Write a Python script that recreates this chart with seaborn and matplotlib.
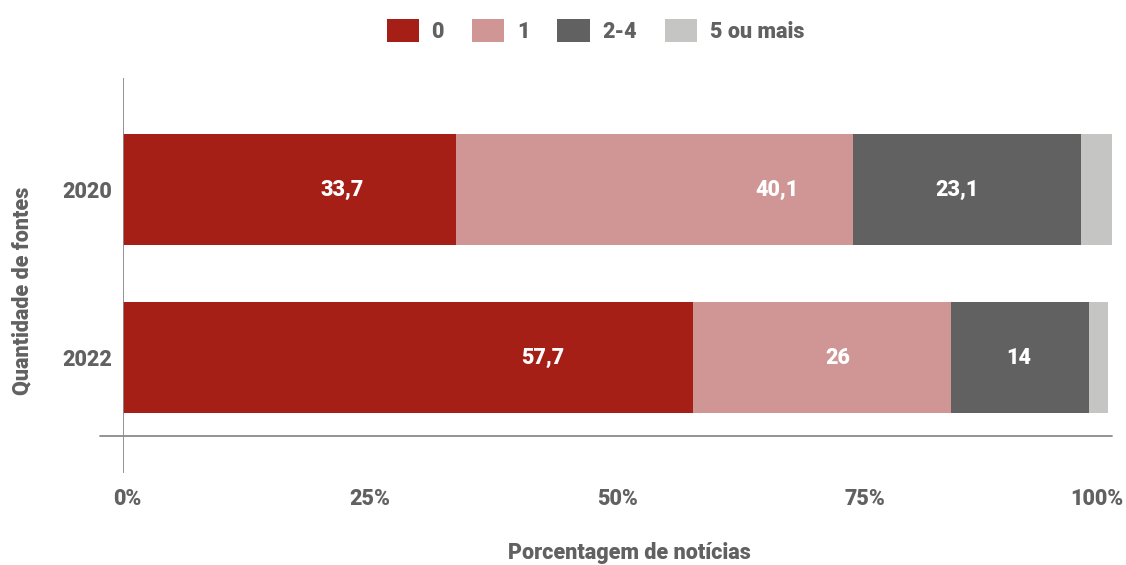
import pandas as pd
import matplotlib.pyplot as plt
import matplotlib.transforms as mtransforms
import seaborn as sns

# ==============================
# 1. Data
# ==============================
years = ['2020', '2022']
categories = ['0', '1', '2-4', '5 ou mais']
fontes_0 = [33.7, 57.7]
fontes_1 = [40.1, 26.0]
fontes_2_4 = [23.1, 14.0]
fontes_5_mais = [3.1, 1.9]
x_ticks = [0, 25, 50, 75, 100]
x_tick_labels = ['0%', '25%', '50%', '75%', '100%']

colors = ['#A61F16', '#CF9695', '#616161', '#C5C5C4']
text_gray = '#616161'
line_gray = '#8a8a8a'
FS = 15.5
FW = 'heavy'

# where the value labels sit inside each bar (in % units), per year
label_x = {'2020': [22.2, 66.1, 84.4], '2022': [42.4, 72.3, 90.6]}

df = pd.DataFrame({'ano': years, '0': fontes_0, '1': fontes_1,
                   '2-4': fontes_2_4, '5 ou mais': fontes_5_mais})
cum = df[categories].cumsum(axis=1)

# ==============================
# 2. Figure
# ==============================
sns.set_theme(style='white')
plt.rcParams['font.family'] = ['Roboto', 'DejaVu Sans']

W, H = 1126, 565
fig = plt.figure(figsize=(W / 100, H / 100), dpi=100)
ax = fig.add_axes([123 / W, 1 - 473 / H, (1111.7 - 123) / W, (473 - 78) / H])

# stacked bars: draw cumulative totals from the back to the front
for cat, col in reversed(list(zip(categories, colors))):
    sns.barplot(x=cum[cat], y=df['ano'], orient='h', color=col, saturation=1,
                width=0.66, linewidth=0, errorbar=None, label=cat, ax=ax)

# value labels
for i, year in enumerate(years):
    for j, cat in enumerate(categories[:3]):
        val = df.loc[i, cat]
        ax.text(label_x[year][j], i, f'{val:g}'.replace('.', ','),
                ha='center', va='center', color='white',
                fontsize=FS, fontweight=FW)

ax.set_xlim(0, 100)
ax.set_ylim(1.6875, -0.664)
sns.despine(ax=ax, left=True, bottom=True)

# axis lines
ax.axvline(0, color=line_gray, lw=1.3)
ax.axhline(1.467, xmin=-23 / 988.7, xmax=1, color=line_gray, lw=1.3, clip_on=False)

ax.set_xticks(x_ticks)
ax.set_xticklabels(x_tick_labels)
ax.tick_params(axis='x', length=0, pad=11, labelsize=FS, labelcolor=text_gray)
ax.tick_params(axis='y', length=0, pad=8, labelsize=FS, labelcolor=text_gray)
for lab in ax.get_xticklabels() + ax.get_yticklabels():
    lab.set_fontweight(FW)

# nudge edge tick labels inward like the original
xlabs = ax.get_xticklabels()
xlabs[0].set_transform(xlabs[0].get_transform() +
                       mtransforms.ScaledTranslation(4 / 100, 0, fig.dpi_scale_trans))
xlabs[-1].set_transform(xlabs[-1].get_transform() +
                        mtransforms.ScaledTranslation(-14.5 / 100, 0, fig.dpi_scale_trans))

ax.set_xlabel('')
ax.set_ylabel('')
fig.text(629.5 / W, 1 - 559 / H, 'Porcentagem de notícias', ha='center',
         va='baseline', fontsize=FS, fontweight=FW, color=text_gray)
fig.text(22 / W, 1 - 291 / H, 'Quantidade de fontes', ha='center', va='center',
         rotation=90, fontsize=FS, fontweight=FW, color=text_gray)

# legend in the original category order
handles, labels = ax.get_legend_handles_labels()
order = [labels.index(c) for c in categories]
if ax.get_legend() is not None:
    ax.get_legend().remove()
fig.legend([handles[k] for k in order], categories, loc='center',
           bbox_to_anchor=(595.5 / W, 1 - 31 / H), ncol=4, frameon=False,
           prop={'size': FS, 'weight': FW}, labelcolor=text_gray,
           handlelength=1.49, handleheight=1.21, handletextpad=0.6,
           columnspacing=1.3)

plt.savefig('out.png', dpi=100)
plt.close()
